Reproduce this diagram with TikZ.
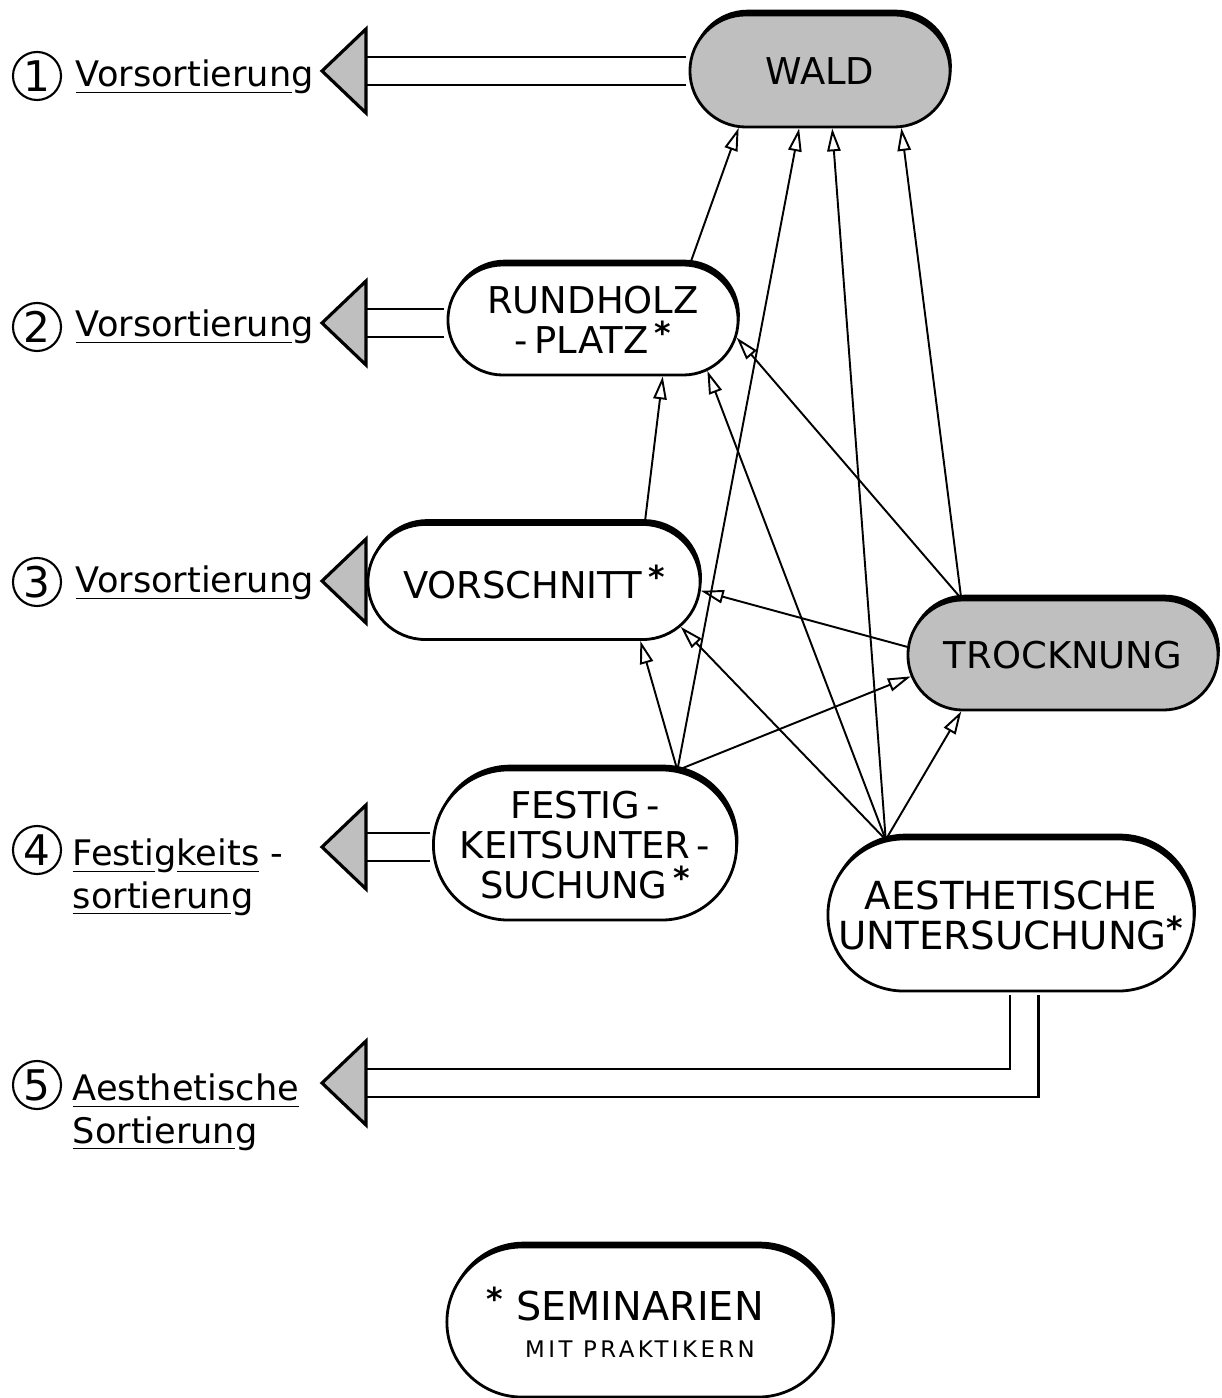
\documentclass[tikz,border=0pt]{standalone}
\usepackage{fontspec}
\setmainfont{DejaVu Sans}
\usetikzlibrary{arrows.meta,shapes.misc,shadows}

\begin{document}
\begin{tikzpicture}[x=0.01cm,y=-0.01cm,>={Triangle[open,length=6.5pt,width=3.8pt]},
  box/.style={rounded rectangle,draw,line width=0.8pt,fill=white,inner xsep=-0.8cm,align=center,
    font=\fontsize{10.5}{11.4}\selectfont,
    drop shadow={shadow xshift=0.5pt,shadow yshift=1.5pt,opacity=1,fill=black}},
  shaded/.style={box,fill=black!25},
  con/.style={->,line width=0.55pt},
  dbl/.style={draw,line width=0.7pt,double=white,double distance=0.26cm,shorten >=0.6pt},
  bigtip/.style={fill=black!25,draw,line width=0.9pt,line join=miter},
  num/.style={circle,draw,line width=0.6pt,minimum size=0.48cm,inner sep=0pt,font=\fontsize{12}{12}\selectfont},
  lbl/.style={anchor=base west,align=left,inner sep=0pt,font=\fontsize{10}{12}\selectfont}]
\useasboundingbox (0,0) rectangle (1221,1398);

% Stationen (minimum width + 1.6cm = Breite)
\node[shaded,minimum width=1.0cm,minimum height=1.12cm] (wald) at (820,71) {WALD};
\node[box,minimum width=1.3cm,minimum height=1.1cm] (rund) at (593,320)
  {RUNDHOLZ\\-\,PLATZ\,\raisebox{0.25em}{\fontsize{9}{9}\selectfont\bfseries*}};
\node[box,minimum width=1.72cm,minimum height=1.15cm] (vor) at (534,582)
  {VORSCHNITT\,\raisebox{0.25em}{\fontsize{9}{9}\selectfont\bfseries*}};
\node[shaded,minimum width=1.5cm,minimum height=1.1cm] (trock) at (1063,655) {TROCKNUNG};
\node[box,minimum width=1.43cm,minimum height=1.5cm] (fest) at (585,845)
  {FESTIG\,-\\KEITSUNTER\,-\\SUCHUNG\,\raisebox{0.25em}{\fontsize{9}{9}\selectfont\bfseries*}};
\node[box,minimum width=2.06cm,minimum height=1.52cm,font=\fontsize{11}{11.4}\selectfont] (aes) at (1011,915)
  {AESTHETISCHE\\UNTERSUCHUNG\raisebox{0.25em}{\fontsize{9}{9}\selectfont\bfseries*}};
\node[box,minimum width=2.26cm,minimum height=1.5cm] (sem) at (640,1322)
  {{\fontsize{11.3}{11.4}\selectfont\llap{\raisebox{0.25em}{\fontsize{9}{9}\selectfont\bfseries*}\,\,}SEMINARIEN}\\[-1pt]%
   {\fontsize{6.5}{10}\selectfont\addfontfeature{LetterSpace=15}MIT PRAKTIKERN}};

% Sortierungen
\foreach \n/\y in {1/71,2/323,3/581,4/847,5/1083}{
  \coordinate (t\n) at (366,\y);
}
\draw[dbl] (t1) -- (wald.west);
\draw[dbl] (t2) -- (t2 -| rund.west);
\draw[dbl] (t4) -- (t4 -| fest.west);
\draw[dbl] (t5) -| ([xshift=0.13cm]aes.south);
\foreach \n in {1,...,5}{
  \filldraw[bigtip] (t\n) ++(0,-42) -- ++(-44,42) -- ++(44,42) -- cycle;
}

\node[num] (n1) at (37,76) {1};
\node[lbl] (l1) at (75,87) {\underline{Vorsortierun}g};
\node[num] (n2) at (37,327) {2};
\node[lbl] (l2) at (75,337) {\underline{Vorsortierun}g};
\node[num] (n3) at (37,582) {3};
\node[lbl] (l3) at (75,593) {\underline{Vorsortierun}g};
\node[num] (n4) at (37,850) {4};
\node[lbl] (l4) at (72,908) {\underline{Festi}g\underline{keits} -\\\underline{sortierun}g};
\node[num] (n5) at (37,1085) {5};
\node[lbl] (l5) at (72,1143) {\underline{Aesthetische}\\\underline{Sortierun}g};

% Verbindungen
\draw[con] (rund.30) -- (wald.-145);
\draw[con] (fest.39) -- (wald.-110);
\draw[con] (aes.149) -- (wald.-78);
\draw[con] (trock.151) -- (wald.-35);
\draw[con] (vor.28) -- (rund.-39);
\draw[con] (aes.149) -- (rund.-24);
\draw[con] (trock.151) -- (rund.-7);
\draw[con] (trock.177) -- (vor.-3);
\draw[con] (aes.149) -- (vor.-17);
\draw[con] (fest.39) -- (vor.-29);
\draw[con] (fest.39) -- (trock.188);
\draw[con] (aes.149) -- (trock.-151);
\end{tikzpicture}
\end{document}
